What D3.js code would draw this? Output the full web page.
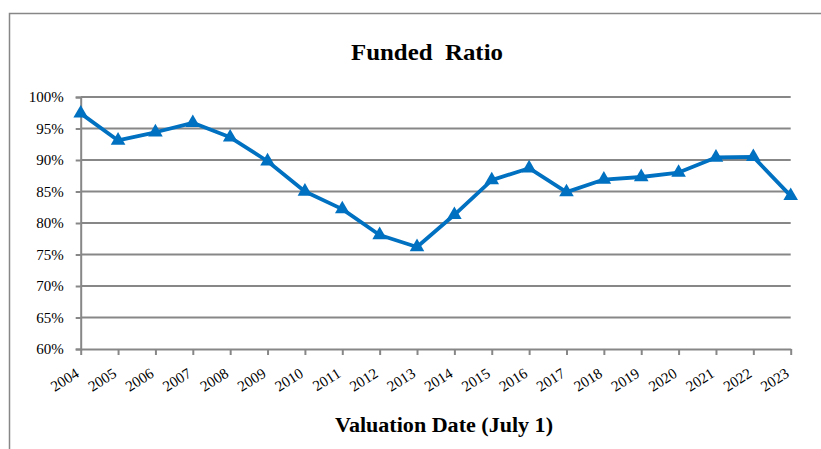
<!DOCTYPE html>
<html>
<head>
<meta charset="utf-8">
<script src="https://cdn.jsdelivr.net/npm/d3@7"></script>
<style>
  html, body { margin: 0; padding: 0; background: #fff; }
  svg { display: block; }
  text { font-family: "Liberation Serif", "Times New Roman", serif; fill: #000; }
</style>
</head>
<body>
<svg id="chart" width="821" height="449"></svg>
<script>
const years = ["2004","2005","2006","2007","2008","2009","2010","2011","2012","2013",
               "2014","2015","2016","2017","2018","2019","2020","2021","2022","2023"];
const fundedRatio = [97.4, 93.1, 94.4, 95.9, 93.6, 89.8, 85.0, 82.2, 78.1, 76.2,
                     81.3, 86.8, 88.7, 84.9, 86.9, 87.3, 88.0, 90.4, 90.5, 84.3];
const yTicks = [60, 65, 70, 75, 80, 85, 90, 95, 100];
const titleText = "Funded  Ratio";
const xAxisTitle = "Valuation Date (July 1)";

const svg = d3.select("#chart");
const plotLeft = 80.7, plotRight = 790.7, plotTop = 97, plotBottom = 349;
const gray = "#878787";
const blue = "#0070C0";

// outer border (top and left visible)
svg.append("path")
  .attr("d", "M9.5,449 L9.5,13.5 L821,13.5")
  .attr("fill", "none").attr("stroke", gray).attr("stroke-width", 1.5);

const x = d3.scalePoint().domain(years).range([plotLeft, plotRight]);
const y = d3.scaleLinear().domain([60, 100]).range([plotBottom, plotTop]);

// gridlines
svg.append("g").selectAll("line").data(yTicks.filter(d => d > 60)).join("line")
  .attr("x1", plotLeft).attr("x2", plotRight)
  .attr("y1", d => y(d)).attr("y2", d => y(d))
  .attr("stroke", gray).attr("stroke-width", 2);

// y axis
const yAxis = svg.append("g").attr("transform", `translate(${plotLeft},0)`)
  .call(d3.axisLeft(y).tickValues(yTicks).tickSize(5).tickPadding(12)
        .tickFormat(d => d + "%"));
yAxis.select(".domain").attr("stroke", gray).attr("stroke-width", 2);
yAxis.selectAll(".tick line").attr("stroke", gray).attr("stroke-width", 2);
yAxis.selectAll(".tick text").attr("font-size", 15)
  .attr("font-family", "Liberation Serif, serif").attr("fill", "#000");

// x axis
const xAxis = svg.append("g").attr("transform", `translate(0,${plotBottom})`)
  .call(d3.axisBottom(x).tickSize(6).tickSizeOuter(0));
xAxis.select(".domain").attr("stroke", gray).attr("stroke-width", 2);
xAxis.selectAll(".tick line").attr("stroke", gray).attr("stroke-width", 2);
xAxis.selectAll(".tick text")
  .attr("font-size", 15).attr("font-family", "Liberation Serif, serif").attr("fill", "#000")
  .attr("text-anchor", "end")
  .attr("y", 0).attr("dy", 0)
  .attr("transform", "translate(-1,27) rotate(-32)");

// line
const line = d3.line().x((d, i) => x(years[i])).y(d => y(d));
svg.append("path").datum(fundedRatio)
  .attr("d", line)
  .attr("fill", "none").attr("stroke", blue).attr("stroke-width", 3.8)
  .attr("stroke-linejoin", "round");

// triangle markers
const tri = d3.symbol().type(d3.symbolTriangle).size(92);
svg.append("g").selectAll("path").data(fundedRatio).join("path")
  .attr("d", tri)
  .attr("transform", (d, i) => `translate(${x(years[i])},${y(d)})`)
  .attr("fill", blue);

// titles
svg.append("text").attr("x", 427).attr("y", 60).attr("text-anchor", "middle")
  .attr("font-size", 23).attr("font-weight", "bold")
  .attr("textLength", 152).attr("lengthAdjust", "spacingAndGlyphs")
  .style("white-space", "pre")
  .text(titleText);

svg.append("text").attr("x", 444).attr("y", 432).attr("text-anchor", "middle")
  .attr("font-size", 20).attr("font-weight", "bold")
  .attr("textLength", 218).attr("lengthAdjust", "spacingAndGlyphs")
  .text(xAxisTitle);
</script>
</body>
</html>
